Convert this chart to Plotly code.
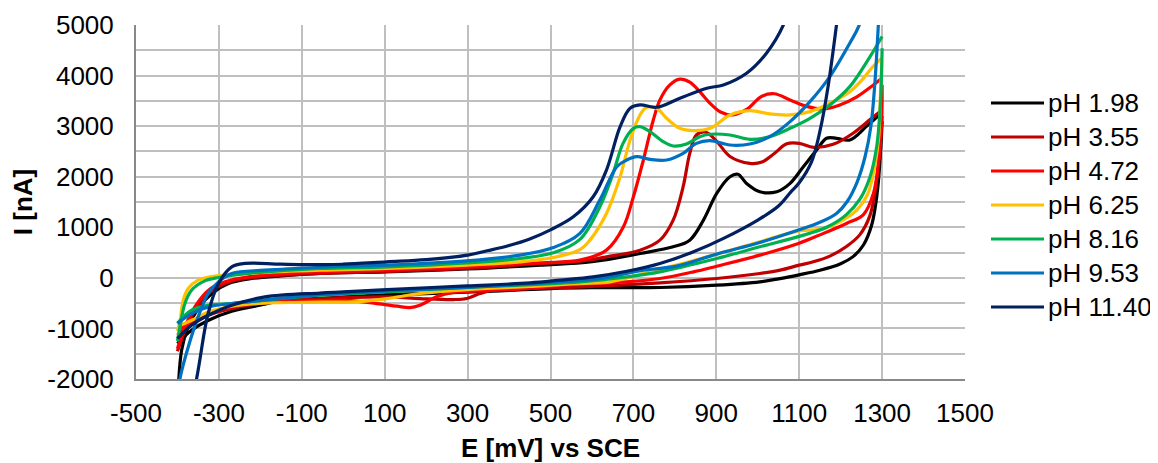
import plotly.graph_objects as go

series_names = ["pH 1.98", "pH 3.55", "pH 4.72", "pH 6.25", "pH 8.16", "pH 9.53", "pH 11.40"]
colors = ["#000000", "#C00000", "#FF0000", "#FFC000", "#00B050", "#0070C0", "#002060"]

x_tickvals = [-500, -300, -100, 100, 300, 500, 700, 900, 1100, 1300, 1500]
x_ticktext = ["-500", "-300", "-100", "100", "300", "500", "700", "900", "1100", "1300", "1500"]
y_tickvals = [-2000, -1000, 0, 1000, 2000, 3000, 4000, 5000]
y_ticktext = ["-2000", "-1000", "0", "1000", "2000", "3000", "4000", "5000"]

# ---- pH 1.98 ----
E_fwd_198 = [-400, -390, -374, -350, -317, -277, -221, -150, -56, 100, 300, 475, 600, 716, 796, 836, 869, 901, 933, 952, 973, 1005, 1046, 1078, 1110, 1142, 1166, 1190, 1222, 1263, 1300]
I_fwd_198 = [-2600, -1432, -970, -607, -310, -112, -13, 40, 86, 119, 175, 251, 320, 482, 614, 746, 1142, 1670, 2000, 2050, 1868, 1703, 1703, 1868, 2198, 2528, 2760, 2760, 2726, 3000, 3280]
E_rev_198 = [1300, 1296, 1288, 1275, 1255, 1230, 1200, 1150, 1100, 1050, 1005, 901, 764, 600, 500, 378, 200, 105, -44, -149, -189, -269, -325, -366, -400]
I_rev_198 = [3100, 2462, 1670, 1050, 650, 420, 280, 150, 60, -20, -79, -145, -191, -195, -211, -257, -310, -330, -400, -450, -520, -660, -838, -1036, -1300]

# ---- pH 3.55 ----
E_fwd_355 = [-400, -378, -350, -309, -261, -189, -56, 100, 300, 475, 571, 635, 716, 764, 796, 820, 836, 852, 875, 901, 933, 981, 1010, 1040, 1070, 1100, 1135, 1182, 1230, 1271, 1300]
I_fwd_355 = [-1450, -970, -541, -211, -46, 30, 86, 125, 185, 284, 330, 416, 548, 746, 1142, 1802, 2462, 2825, 2880, 2700, 2400, 2264, 2290, 2460, 2650, 2660, 2580, 2640, 2860, 3130, 3320]
E_rev_355 = [1300, 1295, 1287, 1271, 1246, 1214, 1174, 1134, 1100, 1054, 1005, 901, 764, 571, 450, 362, 330, 298, 266, 185, 105, -56, -149, -189, -269, -325, -366, -400]
I_rev_355 = [3200, 2594, 1934, 1240, 850, 620, 430, 317, 251, 152, 86, -13, -99, -178, -210, -244, -310, -409, -429, -409, -376, -409, -460, -490, -607, -739, -904, -1135]

# ---- pH 4.72 ----
E_fwd_472 = [-400, -382, -358, -325, -285, -229, -56, 105, 298, 475, 571, 635, 676, 700, 724, 748, 764, 788, 812, 836, 860, 885, 910, 940, 973, 1010, 1040, 1078, 1118, 1158, 1198, 1239, 1279, 1300]
I_fwd_472 = [-1400, -970, -574, -244, -79, 20, 119, 152, 218, 297, 350, 548, 1010, 1604, 2330, 3122, 3518, 3815, 3930, 3870, 3683, 3450, 3280, 3221, 3330, 3590, 3640, 3518, 3390, 3340, 3420, 3580, 3815, 3950]
E_rev_472 = [1300, 1299, 1291, 1279, 1255, 1214, 1150, 1098, 1005, 901, 845, 764, 684, 523, 450, 330, 265, 225, 185, 161, 130, 81, 0, -56, -189, -269, -325, -366, -400]
I_rev_472 = [3820, 3122, 2264, 1670, 1250, 1076, 850, 680, 449, 231, 119, -13, -79, -145, -210, -260, -290, -376, -541, -587, -560, -508, -440, -450, -480, -574, -706, -871, -1036]

# ---- pH 6.25 ----
E_fwd_625 = [-400, -394, -386, -374, -350, -309, -229, -56, 105, 298, 426, 507, 571, 595, 635, 668, 692, 716, 732, 756, 780, 812, 844, 885, 933, 981, 1029, 1078, 1126, 1174, 1222, 1250, 1275, 1298]
I_fwd_625 = [-1050, -871, -442, -211, -46, 33, 90, 152, 185, 251, 317, 403, 560, 746, 1274, 2000, 2726, 3221, 3373, 3353, 3155, 2957, 2911, 2957, 3221, 3307, 3241, 3221, 3287, 3452, 3680, 3900, 4150, 4340]
E_rev_625 = [1299, 1296, 1292, 1282, 1265, 1240, 1200, 1150, 1100, 1005, 901, 804, 724, 644, 571, 450, 298, 185, 105, 24, -56, -189, -269, -325, -366, -400]
I_rev_625 = [4250, 3600, 2800, 2200, 1650, 1350, 1120, 960, 930, 713, 469, 251, 86, -79, -112, -170, -231, -310, -409, -475, -480, -500, -561, -673, -838, -960]

# ---- pH 8.16 ----
E_fwd_816 = [-400, -394, -382, -366, -334, -301, -229, -56, 105, 298, 426, 507, 571, 619, 651, 675, 700, 716, 740, 772, 796, 828, 860, 885, 933, 981, 1029, 1078, 1126, 1174, 1222, 1271, 1300]
I_fwd_816 = [-1250, -970, -508, -244, -59, 7, 86, 185, 218, 297, 383, 495, 760, 1406, 2066, 2660, 2957, 2990, 2891, 2693, 2607, 2647, 2792, 2840, 2825, 2739, 2792, 2957, 3155, 3419, 3782, 4376, 4772]
E_rev_816 = [1300, 1296, 1287, 1271, 1246, 1214, 1166, 1100, 1005, 901, 764, 684, 571, 298, 105, -56, -189, -269, -325, -366, -400]
I_rev_816 = [4540, 3450, 2600, 2000, 1550, 1250, 1000, 820, 614, 383, 119, 20, -79, -191, -277, -343, -440, -508, -541, -640, -900]

# ---- pH 9.53 ----
E_fwd_953 = [-400, -394, -374, -350, -326, -301, -269, -189, -56, 105, 298, 426, 507, 571, 619, 660, 684, 708, 740, 780, 820, 852, 885, 933, 981, 1029, 1078, 1126, 1174, 1222, 1245, 1270]
I_fwd_953 = [-2400, -1992, -1366, -772, -309, -79, 87, 152, 210, 251, 337, 449, 600, 880, 1538, 2198, 2330, 2396, 2343, 2330, 2462, 2660, 2713, 2627, 2647, 2792, 3089, 3485, 3980, 4640, 5003, 5800]
E_rev_953 = [1297, 1291, 1283, 1273, 1259, 1240, 1215, 1190, 1150, 1100, 1005, 901, 804, 724, 684, 603, 523, 298, 105, -56, -189, -269, -325, -366, -400]
I_rev_953 = [5800, 5003, 3900, 3000, 2400, 1900, 1500, 1274, 1100, 950, 700, 470, 231, 152, 86, -33, -79, -191, -260, -330, -440, -508, -574, -706, -900]

# ---- pH 11.40 ----
E_fwd_1140 = [-400, -354, -326, -301, -269, -237, -150, -44, 0, 105, 200, 300, 350, 400, 450, 500, 555, 603, 635, 668, 692, 716, 756, 812, 877, 917, 973, 1021, 1062, 1100]
I_fwd_1140 = [-3800, -2000, -705, -111, 218, 285, 270, 260, 270, 317, 360, 450, 540, 640, 770, 950, 1208, 1604, 2132, 2990, 3353, 3419, 3373, 3551, 3750, 3815, 4047, 4443, 5003, 6000]
E_rev_1140 = [1205, 1190, 1170, 1150, 1130, 1100, 1080, 1050, 1000, 920, 845, 764, 684, 603, 523, 450, 298, 105, 0, -56, -189, -269, -326, -366, -400]
I_rev_1140 = [6000, 5003, 3800, 2900, 2300, 1880, 1700, 1420, 1142, 790, 515, 284, 130, 20, -46, -100, -160, -231, -277, -300, -376, -541, -739, -937, -1200]

forward = [(E_fwd_198, I_fwd_198), (E_fwd_355, I_fwd_355), (E_fwd_472, I_fwd_472), (E_fwd_625, I_fwd_625),
           (E_fwd_816, I_fwd_816), (E_fwd_953, I_fwd_953), (E_fwd_1140, I_fwd_1140)]
reverse = [(E_rev_198, I_rev_198), (E_rev_355, I_rev_355), (E_rev_472, I_rev_472), (E_rev_625, I_rev_625),
           (E_rev_816, I_rev_816), (E_rev_953, I_rev_953), (E_rev_1140, I_rev_1140)]

# The page body has an 8px margin, so the figure is sized/positioned to compensate.
BODY = 8
W, H = 1158 - BODY, 463 - BODY
PLOT_L, PLOT_R, PLOT_T, PLOT_B = 136, 965, 25, 379   # target plot box in window pixels
ML, MT = PLOT_L - BODY, PLOT_T - BODY
MR, MB = W - (PLOT_R - BODY), H - (PLOT_B - BODY)
PW, PH = W - ML - MR, H - MT - MB

def px_to_paper(px, py):
    return (px - PLOT_L) / PW, (PLOT_B - py) / PH

fig = go.Figure()
for name, color, (ef, i_f), (er, i_r) in zip(series_names, colors, forward, reverse):
    line = dict(color=color, width=3.2, shape="spline", smoothing=1)
    fig.add_trace(go.Scatter(x=ef, y=i_f, mode="lines", name=name, showlegend=False, line=line))
    fig.add_trace(go.Scatter(x=er, y=i_r, mode="lines", name=name, showlegend=False, line=line))

# manual legend (sample line + label)
font_family = "Liberation Sans, Arial, sans-serif"
legend_top, legend_step = 103, 34
for k, (name, color) in enumerate(zip(series_names, colors)):
    py = legend_top + k * legend_step
    x0, y0 = px_to_paper(991, py)
    x1, _ = px_to_paper(1044, py)
    xt, _ = px_to_paper(1046, py)
    fig.add_shape(type="line", xref="paper", yref="paper", x0=x0, x1=x1, y0=y0, y1=y0,
                  line=dict(color=color, width=3.2))
    fig.add_annotation(xref="paper", yref="paper", x=xt, y=y0, text=name, showarrow=False,
                       xanchor="left", yanchor="middle",
                       font=dict(family=font_family, size=26, color="#000000"))

grid = "#BFBFBF"
axis_line = "#898989"

fig.update_layout(
    width=W, height=H,
    margin=dict(l=ML, r=MR, t=MT, b=MB),
    paper_bgcolor="white", plot_bgcolor="white",
    font=dict(family=font_family, size=26, color="#000000"),
    showlegend=False,
)
fig.update_xaxes(range=[-500, 1500], tickvals=x_tickvals, ticktext=x_ticktext, showgrid=True, gridcolor=grid, gridwidth=2,
                 showline=True, linecolor=axis_line, linewidth=2, zeroline=False, ticks="",
                 ticklabelstandoff=10, automargin=False,
                 title=dict(text="<b>E [mV] vs SCE</b>", standoff=14, font=dict(size=26)))
fig.update_yaxes(range=[-2000, 5000], tickvals=y_tickvals, ticktext=y_ticktext, showgrid=True, gridcolor=grid, gridwidth=2,
                 minor=dict(tickvals=[-1500, -500, 500, 1500, 2500, 3500, 4500], showgrid=True, gridcolor=grid, gridwidth=2),
                 showline=True, linecolor=axis_line, linewidth=2, zeroline=False, ticks="",
                 ticklabelstandoff=15, automargin=False,
                 title=dict(text="<b>I [nA]</b>", standoff=8, font=dict(size=26)))

fig.write_html("out.html")
